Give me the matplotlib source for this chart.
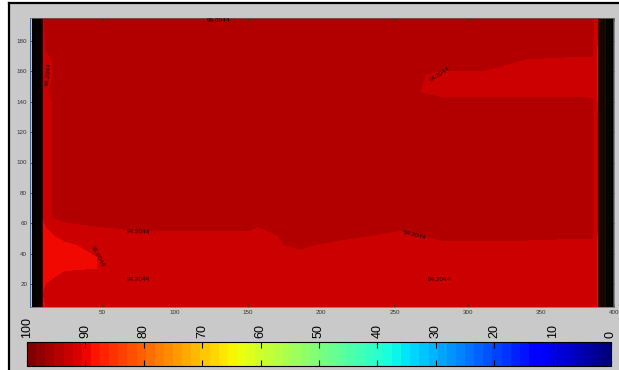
import numpy as np
import matplotlib
matplotlib.use("Agg")
import matplotlib.pyplot as plt
from matplotlib.colors import ListedColormap, Normalize
from matplotlib.lines import Line2D
from matplotlib.patches import Rectangle

plt.rcParams['font.family'] = ['Liberation Sans', 'DejaVu Sans']

# ---------------- data ----------------
x_edge_left = [1.0, 1.6, 2.3, 5.0, 9.0]
edge_left_vals = [5.0, 35.0, 55.0, 75.0, 91.5]
x_edge_right = [389.0, 394.0, 398.5, 399.3, 400.0]
edge_right_vals = [91.5, 75.0, 55.0, 35.0, 5.0]

x_inner = [12, 25, 47, 75, 100, 130, 151, 156, 185, 213, 254, 281, 310, 340, 370, 385]
y_rows = [5, 14, 22, 30, 38, 46, 52, 58, 64, 90, 125, 140, 146, 158, 168, 185, 192, 195]

z_inner = [
    [92.0, 93.8, 93.0, 94.3, 94.3, 94.3, 94.3, 94.3, 94.3, 94.3, 94.3, 94.3, 94.3, 94.3, 94.3, 94.3],
    [93.0, 93.8, 94.3, 94.3, 94.3, 94.3, 94.3, 94.3, 94.3, 94.3, 94.3, 94.3, 94.3, 94.3, 94.3, 94.3],
    [91.6, 93.5, 94.3, 94.3, 94.3, 94.3, 94.3, 94.3, 94.3, 94.3, 94.3, 94.3, 94.3, 94.3, 94.3, 94.3],
    [91.5, 91.6, 92.0, 93.5, 93.5, 93.5, 93.5, 93.5, 93.5, 93.5, 93.5, 93.5, 93.5, 93.5, 93.5, 93.5],
    [91.5, 91.5, 92.0, 93.0, 93.5, 93.5, 93.5, 93.5, 93.5, 93.5, 93.5, 93.5, 93.5, 93.5, 93.5, 93.5],
    [91.5, 91.7, 92.5, 93.5, 93.5, 93.5, 93.5, 93.5, 95.1, 93.5, 93.5, 93.5, 93.5, 93.5, 93.5, 93.5],
    [91.6, 92.5, 93.5, 93.5, 93.5, 93.5, 93.5, 93.5, 95.5, 95.5, 93.5, 95.5, 95.5, 95.5, 95.0, 95.0],
    [92.0, 93.5, 94.5, 95.3, 95.3, 95.5, 95.5, 94.5, 95.5, 95.5, 95.3, 95.5, 95.5, 95.5, 95.5, 95.3],
    [94.0, 95.5, 95.5, 95.5, 95.5, 95.5, 95.5, 95.5, 95.5, 95.5, 95.5, 95.5, 95.5, 95.5, 95.5, 95.3],
    [94.0, 95.5, 95.5, 95.5, 95.5, 95.5, 95.5, 95.5, 95.5, 95.5, 95.5, 95.5, 95.5, 95.5, 95.5, 95.3],
    [94.0, 95.5, 95.5, 95.5, 95.5, 95.5, 95.5, 95.5, 95.5, 95.5, 95.5, 95.5, 95.5, 95.5, 95.5, 95.3],
    [94.0, 95.5, 95.5, 95.5, 95.5, 95.5, 95.5, 95.5, 95.5, 95.5, 95.5, 95.0, 95.0, 95.0, 95.0, 94.8],
    [94.3, 95.5, 95.5, 95.5, 95.5, 95.5, 95.5, 95.5, 95.5, 95.5, 95.0, 94.0, 94.0, 94.0, 94.0, 94.0],
    [94.0, 95.5, 95.5, 95.5, 95.5, 95.5, 95.5, 95.5, 95.5, 95.5, 95.0, 94.2, 94.2, 94.0, 94.0, 94.0],
    [94.0, 95.5, 95.5, 95.5, 95.5, 95.5, 95.5, 95.5, 95.5, 95.5, 95.5, 95.5, 95.5, 94.5, 94.4, 94.4],
    [95.5, 95.5, 95.5, 95.5, 95.5, 95.5, 95.5, 95.5, 95.5, 95.5, 95.5, 95.5, 95.5, 95.5, 95.5, 95.3],
    [96.2, 95.8, 95.5, 95.5, 95.8, 95.8, 95.8, 95.5, 95.5, 95.5, 95.5, 95.5, 95.5, 95.5, 95.5, 95.3],
    [96.3, 96.2, 95.5, 95.5, 96.2, 96.3, 96.1, 95.5, 95.5, 95.5, 95.5, 95.5, 95.5, 94.6, 94.8, 95.3],
]

x_ticks = [50, 100, 150, 200, 250, 300, 350, 400]
y_ticks = [20, 40, 60, 80, 100, 120, 140, 160, 180]
cbar_ticks = [0, 10, 20, 30, 40, 50, 60, 70, 80, 90, 100]
red_levels = [88.0044, 92.0044, 94.5044, 96.5044, 100.0]
label_levels = [92.0044, 94.2044, 96.0044]
label_column_groups = [(0, 9), (8, 16)]

# ---------------- build grid ----------------
x_all = np.array(x_edge_left + x_inner + x_edge_right, dtype=float)
y_all = np.array(y_rows, dtype=float)
Z = np.array([edge_left_vals + row + edge_right_vals for row in z_inner], dtype=float)
X, Y = np.meshgrid(x_all, y_all)
Xi, Yi = np.meshgrid(np.array(x_inner, dtype=float), y_all)
Zi = np.array(z_inner, dtype=float)

fill_levels = np.concatenate([np.arange(0, 88) + 0.0044, red_levels])
edge_line_levels = np.arange(50, 92) + 0.0044
norm = Normalize(vmin=0, vmax=100)

# ---------------- figure ----------------
fig = plt.figure(figsize=(6.19, 3.70), dpi=100)
fig.patch.set_facecolor('white')
bg = Rectangle((9 / 619, 0), 1 - 9 / 619, 1 - 3 / 370, transform=fig.transFigure,
               facecolor='#c9c9c9', edgecolor='none', zorder=-10)
fig.patches.append(bg)
fig.lines.append(Line2D([9 / 619, 9 / 619], [0, 1 - 3 / 370], color='black', lw=1.6,
                        transform=fig.transFigure))
fig.lines.append(Line2D([9 / 619, 1], [1 - 3 / 370, 1 - 3 / 370], color='black', lw=1.6,
                        transform=fig.transFigure))

ax = fig.add_axes([30 / 619, 63 / 370, 584 / 619, 289 / 370])
ax.contourf(X, Y, Z, levels=fill_levels, cmap='jet', norm=norm)
ax.contour(X, Y, Z, levels=edge_line_levels, colors='black', linewidths=0.5)
for c0, c1 in label_column_groups:
    lab_cs = ax.contour(Xi[:, c0:c1], Yi[:, c0:c1], Zi[:, c0:c1], levels=label_levels,
                        colors='black', linewidths=0.0)
    ax.clabel(lab_cs, fmt='%.4f', fontsize=4.6, inline=True, inline_spacing=1,
              colors='#1a0000')

ax.set_xlim(1, 400)
ax.set_ylim(5, 195)
ax.set_xticks(x_ticks)
ax.set_yticks(y_ticks)
ax.tick_params(direction='in', length=2, width=0.5, labelsize=4.5, colors='#333333',
               top=True, right=True, pad=2)
for s in ax.spines.values():
    s.set_linewidth(0.5)
    s.set_color('#666666')

# ---------------- colorbar ----------------
cax = fig.add_axes([27 / 619, 4 / 370, 584 / 619, 24 / 370])
cmap64 = ListedColormap(matplotlib.colormaps['jet'].resampled(64)(np.arange(64)))
sm = matplotlib.cm.ScalarMappable(norm=norm, cmap=cmap64)
cb = fig.colorbar(sm, cax=cax, orientation='horizontal')
cb.set_ticks(cbar_ticks)
cax.invert_xaxis()
cax.xaxis.set_ticks_position('both')
cax.tick_params(axis='x', direction='in', length=4, width=0.8, labeltop=True,
                labelbottom=False, labelsize=9, rotation=90, pad=3, colors='black')
cb.outline.set_linewidth(0.8)

fig.savefig('out.png', dpi=100)
